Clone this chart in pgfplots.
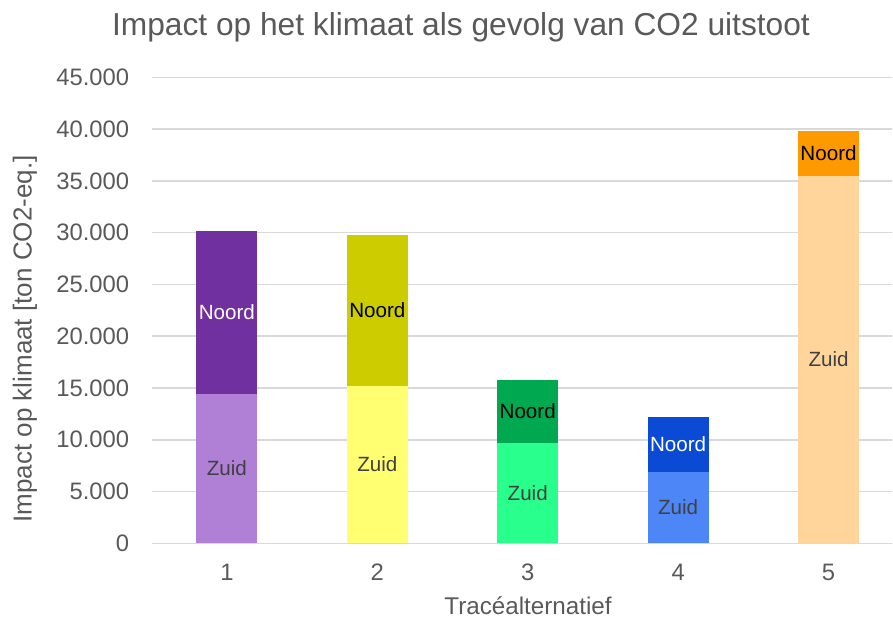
\documentclass[border=0pt]{standalone}
\usepackage{pgfplots}
\pgfplotsset{compat=1.18}
\usepackage{fontspec}
\setmainfont{Liberation Sans}
\definecolor{txt}{HTML}{595959}
\definecolor{dtxt}{HTML}{404040}
\definecolor{gridc}{HTML}{D9D9D9}
\definecolor{nA}{HTML}{7030A0}\definecolor{zA}{HTML}{B07FD6}
\definecolor{nB}{HTML}{CCCC00}\definecolor{zB}{HTML}{FFFF71}
\definecolor{nC}{HTML}{00A84F}\definecolor{zC}{HTML}{28FF8C}
\definecolor{nD}{HTML}{0A4AD4}\definecolor{zD}{HTML}{4C86F7}
\definecolor{nE}{HTML}{FF9900}\definecolor{zE}{HTML}{FFD59B}
\begin{document}
\begin{tikzpicture}
\path[use as bounding box] (0pt,0pt) rectangle (893pt,618pt);
\node[anchor=base, text=txt, font=\fontsize{31.7}{38}\selectfont, inner sep=0pt] at (461pt,582pt) {Impact op het klimaat als gevolg van CO2 uitstoot};
\node[anchor=base, text=txt, font=\fontsize{24.2}{29}\selectfont, inner sep=0pt] at (528pt,4pt) {Tracéalternatief};
\node[anchor=center, rotate=90, text=txt, font=\fontsize{26}{31}\selectfont, inner sep=0pt] at (25pt,279pt) {Impact op klimaat [ton CO2-eq.]};
\begin{axis}[at={(151.7pt,74.7pt)}, anchor=south west, scale only axis,
  width=740pt, height=465.9pt,
  xmin=0.5, xmax=5.42, ymin=0, ymax=45000,
  ybar,
  mybar/.style={fill=#1, draw=none, bar shift=0pt, bar width=0.405},
  axis line style={draw=none}, major tick length=0pt,
  ymajorgrids, grid style={draw=gridc, line width=1.5pt},
  ytick={0,5000,...,45000}, xtick={1,2,3,4,5},
  scaled y ticks=false,
  /pgf/number format/1000 sep={.},
  /pgf/number format/assume math mode=true,
  tick label style={font=\fontsize{23.8}{28}\selectfont, text=txt},
  yticklabel style={inner sep=0pt, anchor=east, xshift=-22.4pt},
  xticklabel style={inner sep=0pt, anchor=north, yshift=-20.7pt},
]
\addplot[mybar=nA] coordinates {(1,30170)};
\addplot[mybar=zA] coordinates {(1,14450)};
\addplot[mybar=nB] coordinates {(2,29780)};
\addplot[mybar=zB] coordinates {(2,15220)};
\addplot[mybar=nC] coordinates {(3,15770)};
\addplot[mybar=zC] coordinates {(3,9720)};
\addplot[mybar=nD] coordinates {(4,12200)};
\addplot[mybar=zD] coordinates {(4,6890)};
\addplot[mybar=nE] coordinates {(5,39840)};
\addplot[mybar=zE] coordinates {(5,35480)};
\begin{scope}[every node/.style={font=\fontsize{20.6}{25}\selectfont, inner sep=0pt, anchor=center}]
\node[text=white] at (axis cs:1,22310) {Noord};
\node[text=dtxt] at (axis cs:1,7225) {Zuid};
\node[text=black] at (axis cs:2,22500) {Noord};
\node[text=dtxt] at (axis cs:2,7610) {Zuid};
\node[text=black] at (axis cs:3,12745) {Noord};
\node[text=dtxt] at (axis cs:3,4860) {Zuid};
\node[text=white] at (axis cs:4,9545) {Noord};
\node[text=dtxt] at (axis cs:4,3445) {Zuid};
\node[text=black] at (axis cs:5,37660) {Noord};
\node[text=dtxt] at (axis cs:5,17740) {Zuid};
\end{scope}
\end{axis}
\end{tikzpicture}
\end{document}
